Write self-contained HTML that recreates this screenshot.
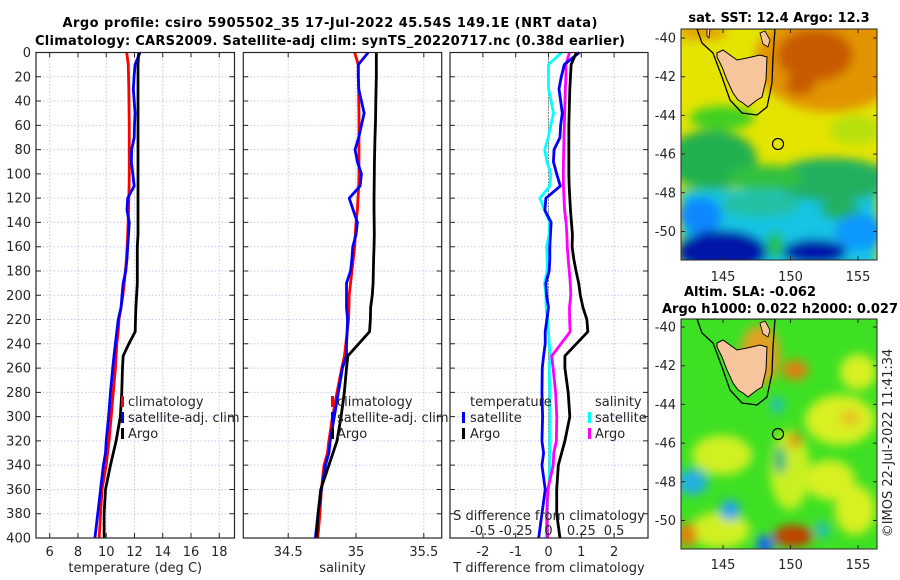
<!DOCTYPE html>
<html><head><meta charset="utf-8"><style>
html,body{margin:0;padding:0;background:#fff;}
svg{display:block;font-family:"DejaVu Sans","Liberation Sans",sans-serif;}
.t{font-size:13px;fill:#262626;}
.b{font-size:13px;font-weight:bold;fill:#000;}
</style></head><body>
<svg id="fig" width="900" height="580" viewBox="0 0 900 580">
<defs>
<clipPath id="cm1"><rect x="681" y="29" width="196" height="231"/></clipPath>
<clipPath id="cm2"><rect x="681" y="319" width="196" height="230"/></clipPath>
<filter id="bl" x="-50%" y="-50%" width="200%" height="200%"><feGaussianBlur stdDeviation="5"/></filter>
</defs>
<text class="b" x="330" y="27" text-anchor="middle" textLength="535">Argo profile: csiro 5905502_35 17-Jul-2022 45.54S 149.1E (NRT data)</text>
<text class="b" x="330" y="45" text-anchor="middle" textLength="590">Climatology: CARS2009. Satellite-adj clim: synTS_20220717.nc (0.38d earlier)</text>
<g id="plots"></g>

<!-- SST map -->
<g>
<g clip-path="url(#cm1)">
<rect x="681" y="29" width="196" height="231" fill="#e4e400"/>
<g filter="url(#bl)">
<rect x="681" y="190" width="196" height="80" fill="#12c4e4"/>
<ellipse cx="830" cy="60" rx="75" ry="52" fill="#e29400"/>
<ellipse cx="815" cy="55" rx="38" ry="26" fill="#c85a00"/>
<ellipse cx="800" cy="85" rx="15" ry="10" fill="#c85a00"/>
<ellipse cx="702" cy="32" rx="25" ry="8" fill="#e0a000"/>
<ellipse cx="712" cy="160" rx="45" ry="30" fill="#20b050"/>
<ellipse cx="722" cy="118" rx="32" ry="12" fill="#40d020"/>
<ellipse cx="832" cy="180" rx="60" ry="22" fill="#20b060"/>
<ellipse cx="765" cy="178" rx="38" ry="13" fill="#30c040"/>
<ellipse cx="855" cy="130" rx="25" ry="15" fill="#b8e010"/>
<ellipse cx="760" cy="205" rx="40" ry="12" fill="#20c0a0"/>
<ellipse cx="840" cy="210" rx="20" ry="10" fill="#20b060"/>
<ellipse cx="700" cy="215" rx="22" ry="18" fill="#1088ff"/>
<ellipse cx="860" cy="232" rx="25" ry="18" fill="#1098ff"/>
<ellipse cx="722" cy="252" rx="45" ry="22" fill="#0018a8"/>
<ellipse cx="815" cy="252" rx="32" ry="13" fill="#0018a8"/>
<ellipse cx="775" cy="245" rx="8" ry="14" fill="#20c040"/>
</g>
<polygon points="697,29 702,43 713,53 722,77 730,100 742,113 757,115 767,107 772,83 773,57 775,29" fill="none" stroke="#000" stroke-width="1.3"/>
<polygon points="717,53 723,50 737,60 747,58 760,55 767,57 766,80 762,97 757,100 748,107 743,103 738,100 733,93 727,80 722,67 717,57" fill="#f7c59c" stroke="#000" stroke-width="1"/>
<polygon points="760,33 765,31 770,40 768,47 763,44" fill="#f7c59c" stroke="#000" stroke-width="0.8"/>
<polygon points="707,29 710,29 709,38 707,36" fill="#f7c59c" stroke="#000" stroke-width="0.8"/>
<circle cx="778" cy="144" r="5.5" fill="none" stroke="#000" stroke-width="1.2"/>
</g>
<rect x="681" y="29" width="196" height="231" fill="none" stroke="#262626" stroke-width="1"/>
</g>
<text class="b" x="779" y="22" text-anchor="middle">sat. SST: 12.4 Argo: 12.3</text>

<!-- SLA map -->
<g>
<g clip-path="url(#cm2)">
<rect x="681" y="319" width="196" height="230" fill="#3ee024"/>
<g filter="url(#bl)">
<ellipse cx="760" cy="355" rx="20" ry="30" fill="#e0a020"/>
<ellipse cx="840" cy="420" rx="35" ry="25" fill="#d8f020"/>
<ellipse cx="830" cy="480" rx="25" ry="20" fill="#d8f020"/>
<ellipse cx="722" cy="455" rx="30" ry="20" fill="#d0f020"/>
<ellipse cx="858" cy="372" rx="18" ry="18" fill="#d8f020"/>
<ellipse cx="790" cy="470" rx="20" ry="40" fill="#c8f020"/>
<ellipse cx="720" cy="530" rx="30" ry="18" fill="#d0f020"/>
<ellipse cx="855" cy="510" rx="20" ry="25" fill="#d8f020"/>
<ellipse cx="795" cy="370" rx="13" ry="10" fill="#e08010"/>
<ellipse cx="850" cy="418" rx="10" ry="8" fill="#e8c020"/>
<ellipse cx="793" cy="536" rx="20" ry="11" fill="#c04000"/>
<ellipse cx="687" cy="535" rx="10" ry="12" fill="#e08010"/>
<ellipse cx="795" cy="440" rx="6" ry="8" fill="#e08010"/>
<ellipse cx="692" cy="482" rx="16" ry="13" fill="#20b0e0"/>
<ellipse cx="730" cy="510" rx="10" ry="10" fill="#20a0f0"/>
<ellipse cx="765" cy="545" rx="8" ry="10" fill="#1060ff"/>
<ellipse cx="777" cy="405" rx="7" ry="8" fill="#20c0c0"/>
<ellipse cx="822" cy="530" rx="8" ry="8" fill="#20c0b0"/>
<ellipse cx="780" cy="460" rx="6" ry="14" fill="#20b080"/>
</g>
<polygon points="697,319 702,333 713,343 722,367 730,390 742,403 757,405 767,397 772,373 773,347 775,319" fill="none" stroke="#000" stroke-width="1.3"/>
<polygon points="717,343 723,340 737,350 747,348 760,345 767,347 766,370 762,387 757,390 748,397 743,393 738,390 733,383 727,370 722,357 717,347" fill="#f7c59c" stroke="#000" stroke-width="1"/>
<polygon points="760,323 765,321 770,330 768,337 763,334" fill="#f7c59c" stroke="#000" stroke-width="0.8"/>
<circle cx="778" cy="434" r="5.5" fill="none" stroke="#000" stroke-width="1.2"/>
</g>
<rect x="681" y="319" width="196" height="230" fill="none" stroke="#262626" stroke-width="1"/>
</g>
<text class="b" x="750" y="296" text-anchor="middle" textLength="132">Altim. SLA: -0.062</text>
<text class="b" x="780" y="313" text-anchor="middle" textLength="236">Argo h1000: 0.022 h2000: 0.027</text>
<text class="t" transform="translate(892,443) rotate(-90)" text-anchor="middle">©IMOS 22-Jul-2022 11:41:34</text>
<g id="maps-axes"></g>

<!-- legends -->
<g>
<rect x="121" y="396" width="3" height="11" fill="#f00"/><text class="t" x="128" y="406">climatology</text>
<rect x="121" y="412" width="3" height="11" fill="#00f"/><text class="t" x="128" y="422">satellite-adj. clim</text>
<rect x="121" y="428" width="3" height="11" fill="#000"/><text class="t" x="128" y="438">Argo</text>
</g>
<g>
<rect x="331" y="396" width="3" height="11" fill="#f00"/><text class="t" x="337" y="406">climatology</text>
<rect x="331" y="412" width="3" height="11" fill="#00f"/><text class="t" x="337" y="422">satellite-adj. clim</text>
<rect x="331" y="428" width="3" height="11" fill="#000"/><text class="t" x="337" y="438">Argo</text>
</g>
<g>
<text class="t" x="470" y="406">temperature</text>
<rect x="462" y="412" width="3" height="11" fill="#00f"/><text class="t" x="470" y="422">satellite</text>
<rect x="462" y="428" width="3" height="11" fill="#000"/><text class="t" x="470" y="438">Argo</text>
<text class="t" x="595" y="406">salinity</text>
<rect x="588" y="412" width="3" height="11" fill="#0ff"/><text class="t" x="595" y="422">satellite</text>
<rect x="588" y="428" width="3" height="11" fill="#f0f"/><text class="t" x="595" y="438">Argo</text>
</g>
<text class="t" x="549" y="520" text-anchor="middle">S difference from climatology</text>
<g id="sdiff-ticks"></g>
</svg>
<script>
const depths=[0,10,20,30,40,50,60,70,80,90,100,110,120,130,140,150,160,170,180,190,200,210,220,230,240,250,260,280,300,320,330,340,360,380,400];
const tempArgo=[12.3,12.25,12.25,12.25,12.25,12.25,12.25,12.25,12.25,12.25,12.25,12.25,12.25,12.25,12.25,12.25,12.2,12.2,12.2,12.2,12.15,12.1,12.07,12.05,11.6,11.2,11.15,11.1,11.0,10.7,10.5,10.3,9.95,9.85,9.85];
const tempClim=[11.45,11.56,11.58,11.6,11.61,11.62,11.63,11.63,11.63,11.63,11.63,11.62,11.6,11.58,11.55,11.52,11.48,11.43,11.36,11.28,11.18,11.05,10.9,10.85,10.75,10.7,10.65,10.5,10.35,10.2,10.1,10.0,9.7,9.6,9.5];
const tempSat=[12.39,12.04,11.97,11.92,11.98,12.04,12.0,11.98,11.8,11.78,11.88,11.98,11.52,11.47,11.63,11.58,11.52,11.47,11.38,11.2,11.12,11.05,10.85,10.75,10.65,10.55,10.46,10.3,10.17,10.0,9.95,9.8,9.6,9.4,9.2];
const salArgo=[35.15,35.15,35.15,35.148,35.146,35.145,35.143,35.14,35.138,35.136,35.135,35.134,35.133,35.133,35.134,35.135,35.133,35.13,35.128,35.126,35.12,35.108,35.106,35.1,35.02,34.94,34.93,34.914,34.89,34.86,34.83,34.8,34.74,34.72,34.71];
const salClim=[34.99,35.017,35.017,35.02,35.02,35.022,35.022,35.022,35.022,35.022,35.022,35.02,35.015,35.01,35.0,34.995,34.99,34.98,34.97,34.96,34.95,34.948,34.945,34.935,34.925,34.915,34.895,34.86,34.827,34.8,34.79,34.764,34.745,34.734,34.718];
const salSat=[35.09,35.017,35.017,35.02,35.04,35.06,35.04,35.02,34.993,35.01,35.04,35.03,34.95,34.98,35.01,35.0,34.976,34.97,34.96,34.93,34.93,34.93,34.938,34.935,34.93,34.93,34.9,34.87,34.84,34.81,34.8,34.775,34.745,34.72,34.7];
const depthTicks=[0,20,40,60,80,100,120,140,160,180,200,220,240,260,280,300,320,340,360,380,400];
const tempTicks=[6,8,10,12,14,16,18];
const salTicks=[34.5,35,35.5];
const diffTicks=[-2,-1,0,1,2];
const sdiffTicks=[-0.5,-0.25,0,0.25,0.5];
const sdiffLabels=["-0.5","-0.25","0","0.25","0.5"];
const lonTicks=[145,150,155];
const latTicks=[-40,-42,-44,-46,-48,-50];

const NS='http://www.w3.org/2000/svg';
const Y0=52.5,Y1=538;
const yD=d=>Y0+d*(Y1-Y0)/400;
const xT=t=>49.7+(t-6)*14.13;
const xS=s=>356+(s-35)*135.6;
const xDT=v=>548.5+v*32.8;
const xSD=v=>548.5+v*4*32.8;
function mk(tag,parent){const e=document.createElementNS(NS,tag);parent.appendChild(e);return e;}
const plots=document.getElementById('plots');
const panels=[
 {name:'temperature-panel',x0:36,x1:234.5,ticks:tempTicks,sc:xT,title:'temperature (deg C)',labels:true},
 {name:'salinity-panel',x0:243.3,x1:441.7,ticks:salTicks,sc:xS,title:'salinity',labels:false},
 {name:'difference-panel',x0:450,x1:648,ticks:diffTicks,sc:xDT,title:'T difference from climatology',labels:false}];
panels.forEach(p=>{
 const g=mk('g',plots);
 
 
 p.g=g;
 p.ticks.forEach(v=>{
  const l=mk('line',g);
  
  
  const x=p.sc(v);
  l.setAttribute('x1',x);l.setAttribute('x2',x);l.setAttribute('y1',Y0);l.setAttribute('y2',Y1);
  l.setAttribute('stroke','#c4cbe8');l.setAttribute('stroke-dasharray','1.5,2');
  const tk=mk('path',g);
  
  
  tk.setAttribute('d',`M${x},${Y1}v-5M${x},${Y0}v5`);tk.setAttribute('stroke','#262626');
  const tx=mk('text',g);
  
  
  tx.setAttribute('class','t');tx.setAttribute('x',x);tx.setAttribute('y',556);tx.setAttribute('text-anchor','middle');
  tx.textContent=String(v);
 });
 depthTicks.forEach(d=>{
  const y=yD(d);
  const l=mk('line',g);
  
  
  l.setAttribute('x1',p.x0);l.setAttribute('x2',p.x1);l.setAttribute('y1',y);l.setAttribute('y2',y);
  l.setAttribute('stroke','#c4cbe8');l.setAttribute('stroke-dasharray','1.5,2');
  const tk=mk('path',g);
  
  
  tk.setAttribute('d',`M${p.x0},${y}h5M${p.x1},${y}h-5`);tk.setAttribute('stroke','#262626');
  if(p.labels){
   const tx=mk('text',g);
   
   
   tx.setAttribute('class','t');tx.setAttribute('x',31);tx.setAttribute('y',y+4.5);tx.setAttribute('text-anchor','end');
   tx.textContent=String(d);
  }
 });
 const tt=mk('text',g);
 
 
 tt.setAttribute('class','t');tt.setAttribute('x',(p.x0+p.x1)/2);tt.setAttribute('y',572);tt.setAttribute('text-anchor','middle');
 tt.textContent=p.title;
});
const zl=mk('line',panels[2].g);


zl.setAttribute('x1',xDT(0));zl.setAttribute('x2',xDT(0));zl.setAttribute('y1',Y0);zl.setAttribute('y2',Y1);
zl.setAttribute('stroke','#333');zl.setAttribute('stroke-dasharray','1,2');
function line(g,vals,sc,color,name){
 const pl=mk('polyline',g);
 
 
 pl.setAttribute('points',vals.map((v,i)=>sc(v).toFixed(2)+','+yD(depths[i]).toFixed(2)).join(' '));
 pl.setAttribute('fill','none');pl.setAttribute('stroke',color);pl.setAttribute('stroke-width','2.8');pl.setAttribute('stroke-linejoin','round');
}
line(panels[0].g,tempClim,xT,'#ff0000','temp-climatology-line');
line(panels[0].g,tempSat,xT,'#0000ff','temp-satellite-line');
line(panels[0].g,tempArgo,xT,'#000000','temp-argo-line');
line(panels[1].g,salClim,xS,'#ff0000','sal-climatology-line');
line(panels[1].g,salSat,xS,'#0000ff','sal-satellite-line');
line(panels[1].g,salArgo,xS,'#000000','sal-argo-line');
line(panels[2].g,salSat.map((v,i)=>v-salClim[i]),xSD,'#00ffff','sdiff-satellite-line');
line(panels[2].g,salArgo.map((v,i)=>v-salClim[i]),xSD,'#ff00ff','sdiff-argo-line');
line(panels[2].g,tempSat.map((v,i)=>v-tempClim[i]),xDT,'#0000ff','tdiff-satellite-line');
line(panels[2].g,tempArgo.map((v,i)=>v-tempClim[i]),xDT,'#000000','tdiff-argo-line');
panels.forEach(p=>{
 const r=mk('rect',p.g);
 
 
 r.setAttribute('x',p.x0);r.setAttribute('y',Y0);r.setAttribute('width',p.x1-p.x0);r.setAttribute('height',Y1-Y0);
 r.setAttribute('fill','none');r.setAttribute('stroke','#262626');r.setAttribute('stroke-width','1.2');
});
const sg=document.getElementById('sdiff-ticks');
sdiffTicks.forEach((v,i)=>{
 const tx=mk('text',sg);
 
 
 tx.setAttribute('class','t');tx.setAttribute('x',xSD(v));tx.setAttribute('y',535);tx.setAttribute('text-anchor','middle');
 tx.textContent=sdiffLabels[i];
});
const mg=document.getElementById('maps-axes');
const xLon=l=>723+(l-145)*13.5;
[{y0:29,y1:260,lat0:38,ly:281},{y0:319,y1:549,lat0:327,ly:569}].forEach(m=>{
 lonTicks.forEach(l=>{
  const x=xLon(l);
  const tk=mk('path',mg);
  
  
  tk.setAttribute('d',`M${x},${m.y1}v-4M${x},${m.y0}v4`);tk.setAttribute('stroke','#262626');
  const tx=mk('text',mg);
  
  
  tx.setAttribute('class','t');tx.setAttribute('x',x);tx.setAttribute('y',m.ly);tx.setAttribute('text-anchor','middle');
  tx.textContent=String(l);
 });
 latTicks.forEach(la=>{
  const y=m.lat0+(-40-la)*19.35;
  const tk=mk('path',mg);
  
  
  tk.setAttribute('d',`M681,${y}h4M877,${y}h-4`);tk.setAttribute('stroke','#262626');
  const tx=mk('text',mg);
  
  
  tx.setAttribute('class','t');tx.setAttribute('x',676);tx.setAttribute('y',y+4.5);tx.setAttribute('text-anchor','end');
  tx.textContent=String(la);
 });
});
</script>
</body></html>
